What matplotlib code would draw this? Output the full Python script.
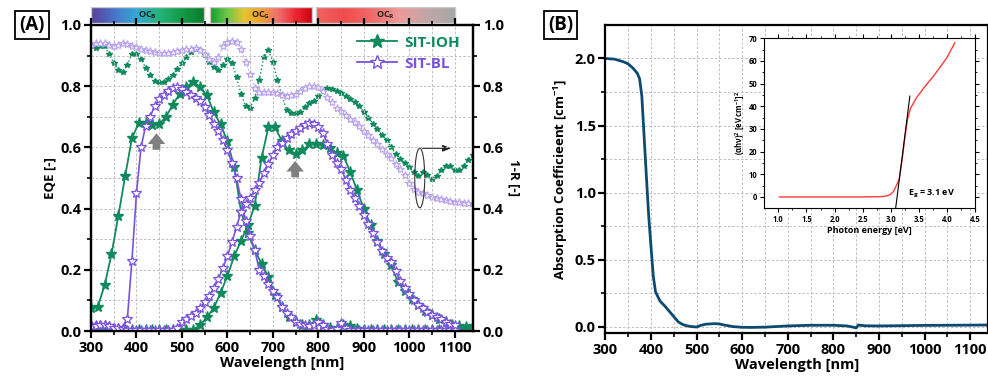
import numpy as np
import matplotlib
matplotlib.use("Agg")
import matplotlib.pyplot as plt
from matplotlib.colors import LinearSegmentedColormap
from matplotlib.patches import Ellipse, Rectangle
from matplotlib.lines import Line2D

plt.rcParams['font.family'] = ['Open Sans', 'DejaVu Sans']
plt.rcParams['font.weight'] = 'bold'
plt.rcParams['axes.labelweight'] = 'bold'
plt.rcParams['mathtext.default'] = 'bf'
plt.rcParams['mathtext.fontset'] = 'custom'
plt.rcParams['mathtext.bf'] = 'Open Sans:bold'
plt.rcParams['mathtext.rm'] = 'Open Sans:bold'

# ---------------- data: panel A ----------------
wl_green = list(range(300, 1141, 15))
ioh_top = [0.075, 0.08, 0.15, 0.25, 0.375, 0.505, 0.63, 0.68, 0.68, 0.672, 0.676, 0.70, 0.74, 0.775,
           0.797, 0.815, 0.797, 0.77, 0.715, 0.675, 0.62, 0.535, 0.39, 0.32, 0.265, 0.22, 0.177, 0.118,
           0.08, 0.047, 0.03, 0.02, 0.02, 0.035, 0.02, 0.01, 0.005, 0.02, 0.015, 0.005, 0.002, 0.002,
           0.002, 0.002, 0.002, 0.002, 0.002, 0.002, 0.002, 0.002, 0.002, 0.002, 0.002, 0.002, 0.002,
           0.002, 0.002]
ioh_bot = [0.002, 0.002, 0.002, 0.002, 0.002, 0.002, 0.002, 0.002, 0.002, 0.002, 0.002, 0.002, 0.002,
           0.002, 0.002, 0.003, 0.02, 0.045, 0.075, 0.125, 0.18, 0.245, 0.295, 0.345, 0.41, 0.565,
           0.665, 0.665, 0.62, 0.59, 0.58, 0.59, 0.61, 0.61, 0.608, 0.597, 0.583, 0.572, 0.52, 0.46,
           0.40, 0.345, 0.295, 0.25, 0.215, 0.16, 0.13, 0.105, 0.085, 0.065, 0.052, 0.038, 0.028,
           0.02, 0.015, 0.012, 0.015]

wl_purple = list(range(300, 1101, 10))
bl_top = [0.02, 0.02, 0.02, 0.02, 0.015, 0.01, 0.01, 0.01, 0.04, 0.23, 0.45, 0.60, 0.67, 0.70, 0.735,
          0.757, 0.772, 0.785, 0.793, 0.797, 0.79, 0.78, 0.77, 0.762, 0.75, 0.732, 0.705, 0.677, 0.655,
          0.625, 0.59, 0.548, 0.50, 0.43, 0.36, 0.31, 0.265, 0.20, 0.18, 0.155, 0.13, 0.11, 0.08, 0.06,
          0.045, 0.03, 0.022, 0.018, 0.015, 0.02, 0.028, 0.02, 0.008, 0.003, 0.008, 0.025, 0.01, 0.002,
          0.002, 0.002, 0.002, 0.002, 0.002, 0.002, 0.002, 0.002, 0.002, 0.002, 0.002, 0.002, 0.002,
          0.002, 0.002, 0.002, 0.002, 0.002, 0.002, 0.002, 0.002, 0.002, 0.002]
bl_bot = [0.015, 0.015, 0.02, 0.02, 0.015, 0.01, 0.01, 0.005, 0.002, 0.002, 0.002, 0.002, 0.002, 0.002,
          0.002, 0.002, 0.002, 0.002, 0.002, 0.01, 0.03, 0.04, 0.05, 0.06, 0.075, 0.095, 0.115, 0.14,
          0.17, 0.205, 0.245, 0.29, 0.34, 0.39, 0.415, 0.435, 0.46, 0.485, 0.515, 0.545, 0.575, 0.60,
          0.615, 0.63, 0.645, 0.655, 0.662, 0.672, 0.68, 0.675, 0.665, 0.648, 0.61, 0.575, 0.55, 0.53,
          0.495, 0.46, 0.435, 0.41, 0.38, 0.35, 0.32, 0.29, 0.26, 0.24, 0.225, 0.195, 0.165, 0.14, 0.12,
          0.10, 0.085, 0.074, 0.062, 0.053, 0.045, 0.038, 0.03, 0.023, 0.018]

wl_r = list(range(300, 1141, 10))
ioh_1mr = [0.93, 0.925, 0.93, 0.93, 0.905, 0.875, 0.852, 0.845, 0.87, 0.905, 0.905, 0.89, 0.86, 0.835,
           0.818, 0.812, 0.815, 0.825, 0.838, 0.855, 0.875, 0.895, 0.912, 0.92, 0.918, 0.903, 0.88,
           0.862, 0.853, 0.87, 0.89, 0.875, 0.83, 0.775, 0.735, 0.73, 0.76, 0.82, 0.895, 0.918, 0.88,
           0.82, 0.77, 0.722, 0.712, 0.712, 0.715, 0.733, 0.745, 0.752, 0.768, 0.785, 0.793, 0.79,
           0.785, 0.778, 0.768, 0.758, 0.748, 0.735, 0.715, 0.697, 0.678, 0.66, 0.64, 0.625, 0.60,
           0.578, 0.562, 0.55, 0.535, 0.52, 0.508, 0.52, 0.51, 0.497, 0.505, 0.525, 0.54, 0.538, 0.525,
           0.525, 0.54, 0.56, 0.575]
bl_1mr = [0.935, 0.942, 0.94, 0.942, 0.935, 0.93, 0.935, 0.94, 0.938, 0.932, 0.928, 0.922, 0.918,
          0.915, 0.913, 0.91, 0.907, 0.91, 0.913, 0.915, 0.918, 0.92, 0.923, 0.924, 0.918, 0.905, 0.888,
          0.88, 0.895, 0.93, 0.945, 0.948, 0.945, 0.92, 0.88, 0.84, 0.795, 0.782, 0.782, 0.782, 0.78,
          0.778, 0.772, 0.768, 0.77, 0.776, 0.785, 0.793, 0.80, 0.802, 0.798, 0.785, 0.765, 0.748,
          0.73, 0.718, 0.705, 0.692, 0.682, 0.67, 0.655, 0.64, 0.624, 0.61, 0.595, 0.58, 0.565, 0.547,
          0.53, 0.51, 0.485, 0.465, 0.455, 0.45, 0.443, 0.437, 0.433, 0.43, 0.427, 0.425, 0.422, 0.42,
          0.419, 0.418, 0.417]

# ---------------- data: panel B ----------------
wl_abs = [300, 320, 340, 350, 360, 370, 375, 380, 385, 390, 395, 400, 405, 410, 420, 430, 440, 450,
          460, 470, 480, 490, 500, 510, 520, 530, 540, 550, 560, 580, 600, 620, 650, 700, 750, 800,
          830, 845, 850, 855, 870, 900, 950, 1000, 1050, 1100, 1140]
absorb = [2.0, 1.995, 1.975, 1.96, 1.93, 1.89, 1.85, 1.72, 1.42, 1.12, 0.83, 0.60, 0.38, 0.26, 0.19,
          0.155, 0.115, 0.075, 0.035, 0.015, 0.005, 0.0, -0.003, 0.01, 0.018, 0.02, 0.022, 0.02, 0.012,
          0.0, -0.005, -0.006, -0.004, 0.005, 0.01, 0.01, 0.005, -0.005, -0.01, 0.012, 0.006, 0.005,
          0.007, 0.009, 0.01, 0.011, 0.012]

energy = [1.02, 1.5, 2.0, 2.5, 2.8, 2.9, 2.95, 3.0, 3.05, 3.1, 3.15, 3.2, 3.25, 3.3, 3.35, 3.45, 3.6,
          3.75, 3.9, 4.0, 4.14]
tauc = [0, 0, 0, 0, 0.1, 0.3, 0.6, 1.2, 2.5, 5, 8, 16, 26, 34.5, 39, 43.5, 48.5, 53, 58, 61.5, 68]
fit_e = [3.087, 3.34]
fit_v = [-5, 44.5]

bands = ['OC$_B$', 'OC$_G$', 'OC$_R$']
band_ranges = [(300, 549), (562, 785), (795, 1101)]
band_colors = [['#5a3f9a', '#4a72c8', '#33aad6', '#22b47a', '#129a45', '#0b7a30'],
               ['#0e9e2c', '#6cc84a', '#e6c430', '#f2a030', '#f07070', '#ee2a36', '#cc0010'],
               ['#f06262', '#f24c4c', '#f06a6a', '#ee9a9a', '#c0a8a8', '#a6a6a6']]

GREEN = '#0f8a5c'
PURPLE = '#7a52e0'
LPURPLE = '#b9a2f0'

fig = plt.figure(figsize=(9.88, 3.84), dpi=100)

# ================= Panel A =================
ax = fig.add_axes([0.0921, 0.138, 0.3866, 0.797])
ax2 = ax.twinx()
ax.set_zorder(2)
ax.patch.set_visible(False)

ax2.plot(wl_r, ioh_1mr, color=GREEN, ls=':', lw=1.0, marker='*', ms=4, mec=GREEN, mfc=GREEN)
ax2.plot(wl_r, bl_1mr, color=LPURPLE, ls=':', lw=1.0, marker='*', ms=6, mec=LPURPLE, mfc='#f0eaff', mew=0.8)

ax.plot(wl_green, ioh_top, color=GREEN, lw=1.3, marker='*', ms=8, mec=GREEN, mfc=GREEN)
ax.plot(wl_green, ioh_bot, color=GREEN, lw=1.3, marker='*', ms=8, mec=GREEN, mfc=GREEN)
ax.plot(wl_purple, bl_top, color=PURPLE, lw=1.2, marker='*', ms=7.5, mec=PURPLE, mfc='white', mew=0.9)
ax.plot(wl_purple, bl_bot, color=PURPLE, lw=1.2, marker='*', ms=7.5, mec=PURPLE, mfc='white', mew=0.9)

for a in (ax, ax2):
    a.set_xlim(300, 1140)
    a.set_ylim(0, 1.0)
    for s in a.spines.values():
        s.set_linewidth(1.6)
ax.set_xticks(range(300, 1101, 100))
ax.set_xticks(range(350, 1141, 50), minor=True)
ax.set_yticks(np.arange(0, 1.01, 0.2))
ax.set_yticks(np.arange(0.1, 1.0, 0.2), minor=True)
ax2.set_yticks(np.arange(0, 1.01, 0.2))
ax2.set_yticks(np.arange(0.1, 1.0, 0.2), minor=True)
ax.yaxis.set_major_formatter(matplotlib.ticker.FormatStrFormatter('%.1f'))
ax2.yaxis.set_major_formatter(matplotlib.ticker.FormatStrFormatter('%.1f'))
ax.tick_params(which='major', length=5, width=1.6, labelsize=10.5, top=True, direction='out', pad=2)
ax.tick_params(which='minor', length=3, width=1.2, top=True)
ax.tick_params(axis='x', which='both', top=True, labeltop=False)
ax2.tick_params(which='major', length=5, width=1.6, labelsize=10.5, pad=2)
ax2.tick_params(which='minor', length=3, width=1.2)
ax.grid(True, which='both', ls=(0, (2.5, 2)), color='#bdbdbd', lw=0.7)
ax2.set_axisbelow(True)
ax.set_xlabel('Wavelength [nm]', fontsize=10.5, labelpad=1)
ax.set_ylabel('EQE [-]', fontsize=9.5, labelpad=3)
ax2.set_ylabel('1-R [-]', fontsize=9.5, rotation=270, labelpad=12)

# arrows
arrow_style = 'simple,head_length=0.55,head_width=0.9,tail_width=0.4'
ax.annotate('', xy=(444, 0.655), xytext=(444, 0.583),
            arrowprops=dict(arrowstyle=arrow_style, color='#808080', lw=0, mutation_scale=14), zorder=5)
ax.annotate('', xy=(749, 0.565), xytext=(749, 0.493),
            arrowprops=dict(arrowstyle=arrow_style, color='#808080', lw=0, mutation_scale=14), zorder=5)
ax2.add_patch(Ellipse((1023, 0.50), 22, 0.195, fill=False, ec='#333333', lw=0.8, zorder=6))
ax2.annotate('', xy=(1098, 0.597), xytext=(1023, 0.597),
             arrowprops=dict(arrowstyle='-|>,head_length=0.5,head_width=0.2', color='#222222', lw=0.8))

handles = [Line2D([], [], color=GREEN, lw=1.3, marker='*', ms=10, mfc=GREEN, mec=GREEN),
           Line2D([], [], color=PURPLE, lw=1.3, marker='*', ms=10, mfc='white', mec=PURPLE)]
leg = ax.legend(handles, ['SIT-IOH', 'SIT-BL'], loc='upper right', frameon=False, fontsize=11,
                handlelength=2.6, labelspacing=0.45, borderaxespad=0.3, handletextpad=0.5,
                bbox_to_anchor=(0.995, 1.0))
for t, c in zip(leg.get_texts(), [GREEN, PURPLE]):
    t.set_color(c)

fig.text(0.0325, 0.935, '(A)', fontsize=13.5, fontweight='bold', ha='center', va='center',
         bbox=dict(boxstyle='square,pad=0.22', fc='white', ec='black', lw=1.3))

# top color bars
axb = fig.add_axes([0.0921, 1 - 22.7 / 384, 0.3866, 15.4 / 384])
axb.set_xlim(300, 1140)
axb.set_ylim(0, 1)
axb.axis('off')
grad = np.linspace(0, 1, 256).reshape(1, -1)
for lab, (x0, x1), cols in zip(bands, band_ranges, band_colors):
    cmap = LinearSegmentedColormap.from_list(lab, cols)
    axb.imshow(grad, cmap=cmap, extent=[x0, x1, 0, 1], aspect='auto', interpolation='bilinear')
    axb.add_patch(Rectangle((x0, 0), x1 - x0, 1, fill=False, ec='#c8c8c8', lw=1.0))
    axb.text((x0 + x1) / 2, 0.5, lab, ha='center', va='center', fontsize=6.5, fontweight='bold',
             color='#222222')
axb.set_xlim(300, 1140)
axb.set_ylim(0, 1)

# ================= Panel B =================
bx = fig.add_axes([0.6127, 0.132, 0.3877, 0.803])
bx.plot(wl_abs, absorb, color='#0d4a72', lw=2.0)
bx.set_xlim(300, 1140)
bx.set_ylim(-0.05, 2.25)
bx.set_xticks(range(300, 1101, 100))
bx.set_xticks(range(350, 1141, 50), minor=True)
bx.set_yticks([0.0, 0.5, 1.0, 1.5, 2.0])
bx.set_yticks([0.25, 0.75, 1.25, 1.75], minor=True)
bx.yaxis.set_major_formatter(matplotlib.ticker.FormatStrFormatter('%.1f'))
for s in bx.spines.values():
    s.set_linewidth(1.6)
bx.tick_params(which='major', length=5, width=1.6, labelsize=10.5, pad=2)
bx.tick_params(which='minor', length=3, width=1.2)
bx.grid(True, which='both', ls=(0, (2.5, 2)), color='#bdbdbd', lw=0.7)
bx.set_xlabel('Wavelength [nm]', fontsize=10.5, labelpad=1)
bx.set_ylabel('Absorption Coefficieent [cm$^{-1}$]', fontsize=9.5, labelpad=3)
fig.text(0.5675, 0.935, '(B)', fontsize=13.5, fontweight='bold', ha='center', va='center',
         bbox=dict(boxstyle='square,pad=0.22', fc='white', ec='black', lw=1.3))

# inset
ix = fig.add_axes([0.7736, 0.4576, 0.2133, 0.4427])
ix.set_facecolor('white')
ix.plot(energy, tauc, color='#ff3a3a', lw=1.0)
ix.plot(fit_e, fit_v, color='black', lw=0.8)
ix.set_xlim(0.75, 4.5)
ix.set_ylim(-5, 70)
ix.set_xticks(np.arange(1.0, 4.51, 0.5))
ix.set_yticks(range(0, 71, 10))
ix.set_yticks(range(5, 70, 10), minor=True)
ix.set_xticks(np.arange(1.25, 4.5, 0.5), minor=True)
ix.xaxis.set_major_formatter(matplotlib.ticker.FormatStrFormatter('%.1f'))
ix.tick_params(which='major', labelsize=5.5, length=3, width=0.8, top=True, right=True, pad=2)
ix.tick_params(which='minor', length=1.5, width=0.6, top=True, right=True)
for s in ix.spines.values():
    s.set_linewidth(0.8)
ix.set_xlabel('Photon energy [eV]', fontsize=6.5, labelpad=1)
ix.set_ylabel('(\u03b1h\u03bd)$^2$ [eV cm$^{-1}$]$^2$', fontsize=5.5, labelpad=2)
ix.text(3.72, 1.5, 'E$_g$ = 3.1 eV', fontsize=6.5, fontweight='bold', ha='center', va='center')

fig.savefig('out.png', dpi=100)
